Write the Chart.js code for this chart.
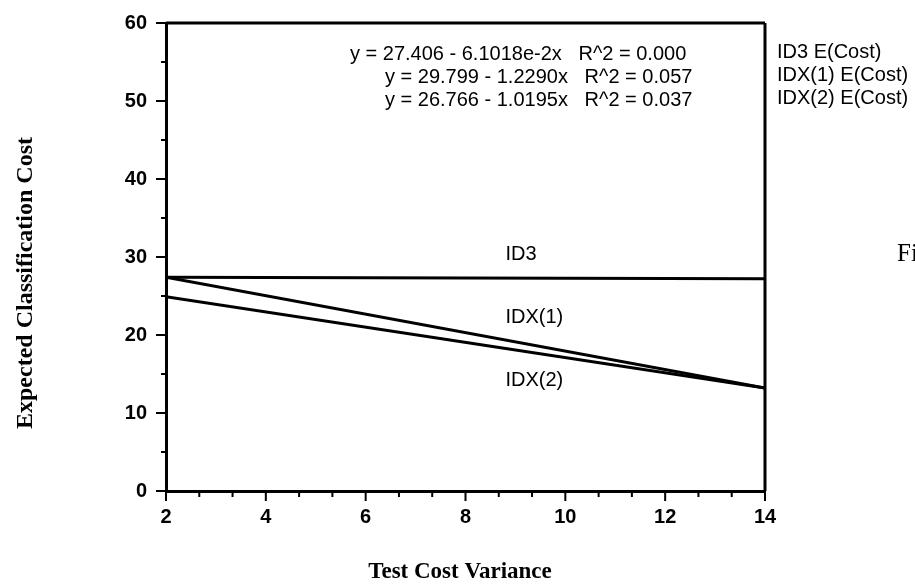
<!DOCTYPE html>
<html>
<head>
<meta charset="utf-8">
<script src="https://cdn.jsdelivr.net/npm/chart.js@4/dist/chart.umd.min.js"></script>
<style>
  html, body { margin: 0; padding: 0; background: #fff; }
  #costChart { display: block; }
</style>
</head>
<body>
<canvas id="costChart" width="915" height="585"></canvas>
<script>
// values
const testCostVariance = [2, 14];
const id3Cost = [27.4, 27.2];
const idx1Cost = [27.4, 13.2];
const idx2Cost = [24.9, 13.2];

const xTickValues = [2, 4, 6, 8, 10, 12, 14];
const yTickValues = [0, 10, 20, 30, 40, 50, 60];

const regressionLines = [
    'y = 27.406 - 6.1018e-2x   R^2 = 0.000',
    'y = 29.799 - 1.2290x   R^2 = 0.057',
    'y = 26.766 - 1.0195x   R^2 = 0.037'
];
const seriesNames = ['ID3 E(Cost)', 'IDX(1) E(Cost)', 'IDX(2) E(Cost)'];
const lineLabels = [
    { text: 'ID3', x: 8.8, y: 30.3 },
    { text: 'IDX(1)', x: 8.8, y: 22.3 },
    { text: 'IDX(2)', x: 8.8, y: 14.2 }
];

const sansFont = '"Liberation Sans", Arial, sans-serif';
const serifFont = '"Liberation Serif", "Times New Roman", serif';

function toPoints(values) {
    return values.map((v, i) => ({ x: testCostVariance[i], y: v }));
}

function lineDataset(label, values) {
    return {
        label: label,
        data: toPoints(values),
        borderColor: '#000',
        borderWidth: 3,
        pointRadius: 0,
        fill: false,
        tension: 0
    };
}

// frame, minor ticks and all the loose text
const decorations = {
    id: 'decorations',
    afterDraw(chart) {
        const ctx = chart.ctx;
        const area = chart.chartArea;
        const xs = chart.scales.x;
        const ys = chart.scales.y;

        ctx.save();
        ctx.strokeStyle = '#000';
        ctx.lineWidth = 3;
        ctx.beginPath();
        ctx.moveTo(area.left, area.top);
        ctx.lineTo(area.right, area.top);
        ctx.moveTo(area.right, area.top);
        ctx.lineTo(area.right, area.bottom);
        ctx.stroke();

        // x ticks: major every 2, minor every 2/3
        ctx.lineWidth = 2;
        ctx.beginPath();
        for (let i = 0; i <= 18; i++) {
            const v = 2 + i * 2 / 3;
            const px = xs.getPixelForValue(v);
            const len = (i % 3 === 0) ? 10 : 6;
            ctx.moveTo(px, area.bottom);
            ctx.lineTo(px, area.bottom + len);
        }
        // y ticks: major every 10, minor every 5
        for (let v = 0; v <= 60; v += 5) {
            const py = ys.getPixelForValue(v);
            const len = (v % 10 === 0) ? 10 : 5;
            ctx.moveTo(area.left, py);
            ctx.lineTo(area.left - len, py);
        }
        ctx.stroke();

        ctx.fillStyle = '#000';
        ctx.textBaseline = 'middle';

        // regression equations
        ctx.font = '20px ' + sansFont;
        ctx.textAlign = 'left';
        ctx.fillText(regressionLines[0], 350, 54);
        ctx.fillText(regressionLines[1], 385, 77);
        ctx.fillText(regressionLines[2], 385, 100);

        // series names to the right of the plot
        seriesNames.forEach((name, i) => {
            ctx.fillText(name, area.right + 12, 52 + i * 23);
        });

        // labels on the lines
        lineLabels.forEach(l => {
            ctx.fillText(l.text, xs.getPixelForValue(l.x), ys.getPixelForValue(l.y));
        });

        // axis titles
        ctx.font = 'bold 23px ' + serifFont;
        ctx.textAlign = 'center';
        ctx.fillText('Test Cost Variance', 460, 572);

        ctx.save();
        ctx.translate(26, 283);
        ctx.rotate(-Math.PI / 2);
        ctx.font = 'bold 24px ' + serifFont;
        ctx.fillText('Expected Classification Cost', 0, 0);
        ctx.restore();

        // caption cut by the page edge
        ctx.font = '25px ' + serifFont;
        ctx.textAlign = 'left';
        ctx.fillText('Figure', 897, 254);

        ctx.restore();
    }
};

new Chart(document.getElementById('costChart'), {
    type: 'line',
    data: {
        datasets: [
            lineDataset('ID3', id3Cost),
            lineDataset('IDX(1)', idx1Cost),
            lineDataset('IDX(2)', idx2Cost)
        ]
    },
    options: {
        responsive: false,
        animation: false,
        layout: {
            padding: { top: 23, right: 150, left: 0, bottom: 0 }
        },
        plugins: {
            legend: { display: false },
            tooltip: { enabled: false },
            title: { display: false }
        },
        scales: {
            x: {
                type: 'linear',
                min: 2,
                max: 14,
                afterFit: scale => {
                    scale.height = 94;
                    scale.paddingLeft = 0;
                    scale.paddingRight = 0;
                },
                afterBuildTicks: scale => {
                    scale.ticks = xTickValues.map(v => ({ value: v }));
                },
                grid: { display: false, drawTicks: false },
                border: { display: true, color: '#000', width: 3 },
                ticks: {
                    color: '#000',
                    padding: 14,
                    maxRotation: 0,
                    font: { family: sansFont, size: 20, weight: 'bold' }
                }
            },
            y: {
                type: 'linear',
                min: 0,
                max: 60,
                afterFit: scale => {
                    scale.width = 166;
                    scale.paddingTop = 0;
                    scale.paddingBottom = 0;
                },
                afterBuildTicks: scale => {
                    scale.ticks = yTickValues.map(v => ({ value: v }));
                },
                grid: { display: false, drawTicks: false },
                border: { display: true, color: '#000', width: 3 },
                ticks: {
                    color: '#000',
                    padding: 19,
                    font: { family: sansFont, size: 20, weight: 'bold' }
                }
            }
        }
    },
    plugins: [decorations]
});
</script>
</body>
</html>
